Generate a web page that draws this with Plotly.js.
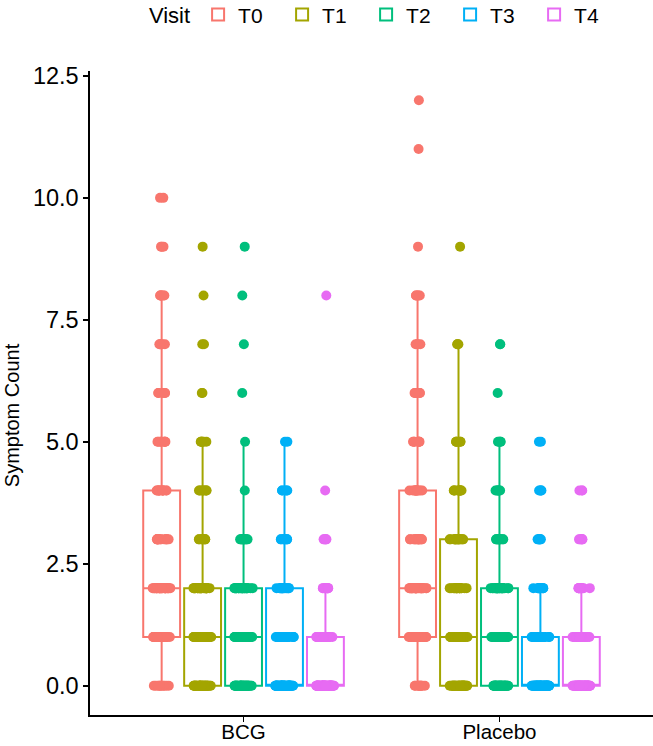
<!DOCTYPE html>
<html><head><meta charset="utf-8">
<script src="https://cdn.plot.ly/plotly-3.0.1.min.js"></script>
<style>html,body{margin:0;padding:0;background:#fff}</style>
</head><body><div id="chart" style="width:653px;height:746px"></div>
<script>
// categories
const groups = ['BCG', 'Placebo'];
const visits = ['T0', 'T1', 'T2', 'T3', 'T4'];
const colors = ['#F8766D', '#A3A500', '#00BF7D', '#00B0F6', '#E76BF3'];
// symptom count values (0..12); arrays below give the number of subjects at each value
const symptomValues = [0, 1, 2, 3, 4, 5, 6, 7, 8, 9, 10, 11, 12];
const bcgT0 = [10, 30, 30, 14, 12, 8, 5, 5, 6, 3, 2, 0, 0];
const bcgT1 = [35, 35, 25, 8, 8, 6, 2, 2, 1, 1, 0, 0, 0];
const bcgT2 = [35, 33, 25, 10, 1, 1, 1, 1, 1, 1, 0, 0, 0];
const bcgT3 = [60, 20, 15, 8, 5, 2, 0, 0, 0, 0, 0, 0, 0];
const bcgT4 = [70, 25, 10, 5, 1, 0, 0, 0, 1, 0, 0, 0, 0];
const placeboT0 = [10, 30, 30, 14, 12, 8, 6, 4, 5, 1, 0, 1, 1];
const placeboT1 = [35, 30, 18, 15, 10, 6, 0, 3, 0, 1, 0, 0, 0];
const placeboT2 = [35, 33, 25, 10, 6, 4, 1, 2, 0, 0, 0, 0, 0];
const placeboT3 = [65, 25, 12, 6, 4, 2, 0, 0, 0, 0, 0, 0, 0];
const placeboT4 = [68, 25, 12, 6, 3, 0, 0, 0, 0, 0, 0, 0, 0];
// axis ticks
const yTickVals = [0, 2.5, 5, 7.5, 10, 12.5];
const yTickText = ['0.0', '2.5', '5.0', '7.5', '10.0', '12.5'];
const yTitle = 'Symptom Count';

const countsByVisit = {
  T0: [bcgT0, placeboT0],
  T1: [bcgT1, placeboT1],
  T2: [bcgT2, placeboT2],
  T3: [bcgT3, placeboT3],
  T4: [bcgT4, placeboT4]
};

const traces = visits.map((v, i) => {
  const xs = [], ys = [];
  countsByVisit[v].forEach((counts, g) => {
    counts.forEach((n, k) => {
      for (let j = 0; j < n; j++) { xs.push(groups[g]); ys.push(symptomValues[k]); }
    });
  });
  return {
    type: 'box', name: v, x: xs, y: ys,
    boxpoints: 'all', jitter: 0.5, pointpos: 0,
    whiskerwidth: 0,
    fillcolor: 'rgba(255,255,255,0)',
    line: {color: colors[i], width: 2},
    marker: {color: colors[i], size: 10, opacity: 1},
    hoverinfo: 'skip'
  };
});

const font = 'Liberation Sans, Arial, Helvetica, sans-serif';
const layout = {
  width: 653, height: 746,
  margin: {l: 90, r: 0, t: 71, b: 31, autoexpand: false},
  paper_bgcolor: '#fff', plot_bgcolor: '#fff',
  font: {family: font, color: '#000', size: 20},
  boxmode: 'group', boxgap: 0.2, boxgroupgap: 0.1,
  showlegend: true,
  legend: {
    orientation: 'h', xref: 'container', yref: 'container',
    x: 0.225, xanchor: 'left', y: 0.98, yanchor: 'middle',
    title: {text: 'Visit', side: 'left', font: {size: 22}},
    font: {size: 21}, entrywidth: 39, entrywidthmode: 'pixels'
  },
  xaxis: {
    type: 'category', categoryorder: 'array', categoryarray: groups,
    range: [-0.6, 1.6], showgrid: false, zeroline: false,
    showline: true, linecolor: '#000', linewidth: 1.6,
    ticks: 'outside', ticklen: 5, tickwidth: 1.6, tickcolor: '#000',
    ticklabelstandoff: -7,
    tickfont: {size: 20.5, color: '#000'}
  },
  yaxis: {
    range: [-0.6, 12.6], showgrid: false, zeroline: false,
    showline: true, linecolor: '#000', linewidth: 1.6,
    ticks: 'outside', ticklen: 5, tickwidth: 1.6, tickcolor: '#000',
    tickvals: yTickVals, ticktext: yTickText,
    tickfont: {size: 23.5, color: '#000'}
  },
  annotations: [{
    text: yTitle, textangle: -90, showarrow: false,
    xref: 'paper', yref: 'paper', x: -0.138, y: 0.466,
    xanchor: 'center', yanchor: 'middle',
    font: {size: 20, color: '#000'}
  }]
};

Plotly.newPlot('chart', traces, layout, {displayModeBar: false, staticPlot: true});
</script></body></html>
